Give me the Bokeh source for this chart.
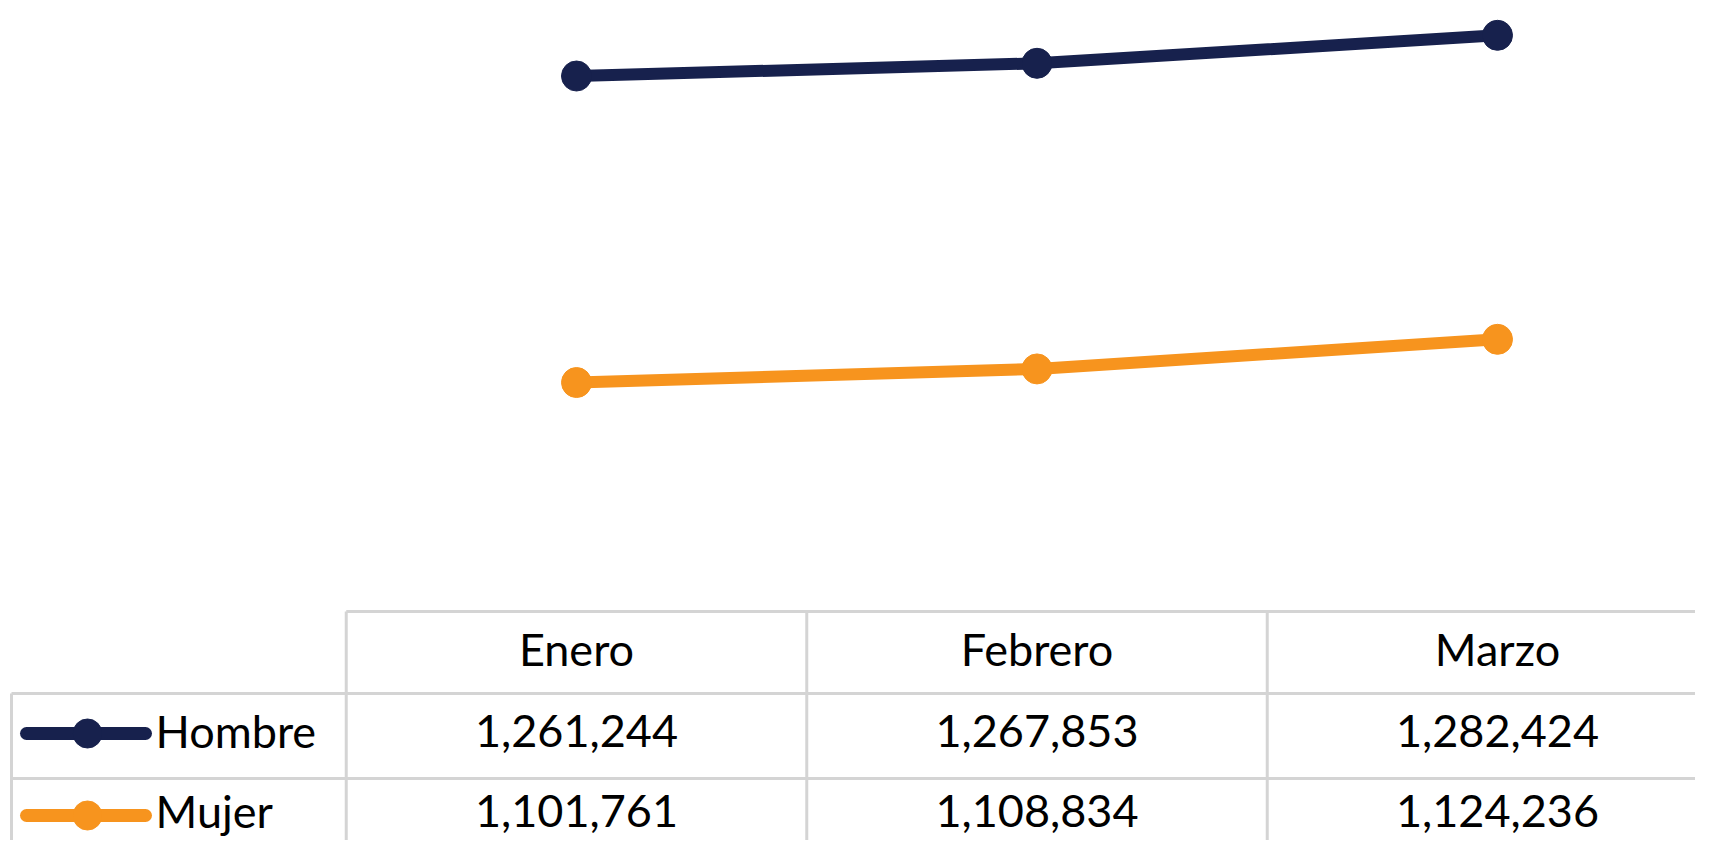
from bokeh.plotting import figure
from bokeh.models import Range1d
from bokeh.core.properties import value
from bokeh.embed import file_html
from bokeh.resources import INLINE

# ---- data ----
months = ["Enero", "Febrero", "Marzo"]
series_names = ["Hombre", "Mujer"]
hombre = [1261244, 1267853, 1282424]
mujer = [1101761, 1108834, 1124236]
series_values = [hombre, mujer]
colors = ["#17214d", "#f7941e"]

# ---- layout (screenshot pixels) ----
W, H = 1695, 840
PAGE_L, PAGE_T = 0, 0
COL0_PX, COL_W = 576.0, 460.5          # centre of first category, column width
Y_REF_PX, Y_REF_VAL, PX_PER_UNIT = 210.4, 1191059.0, 1.9219 / 1000.0

x_start = (PAGE_L - COL0_PX) / COL_W
x_end = (PAGE_L + W - COL0_PX) / COL_W
y_top = Y_REF_VAL + (Y_REF_PX - PAGE_T) / PX_PER_UNIT
y_bot = Y_REF_VAL - (PAGE_T + H - Y_REF_PX) / PX_PER_UNIT

p = figure(width=W, height=H, output_backend="svg", toolbar_location=None,
           x_range=Range1d(x_start, x_end), y_range=Range1d(y_bot, y_top),
           min_border=0, outline_line_color=None, background_fill_color="white",
           border_fill_color="white")
p.extra_x_ranges = {"px": Range1d(PAGE_L, PAGE_L + W)}
p.extra_y_ranges = {"px": Range1d(PAGE_T + H, PAGE_T)}
p.xaxis.visible = False
p.yaxis.visible = False
p.xgrid.visible = False
p.ygrid.visible = False

FONT = value("Lato")
FS = "45px"
GRID = "#d4d4d4"
LW_GRID = 3

# ---- data table grid ----
TOP, ROW1, ROW2, BOT = 611, 693, 778, 900
LEFT = 11
n = len(months)
col_edges = [i - 0.5 for i in range(n + 1)]
p.segment(x0=[col_edges[0]], y0=[TOP], x1=[x_end + 1], y1=[TOP], y_range_name="px",
          line_color=GRID, line_width=LW_GRID)
for yy in (ROW1, ROW2):
    p.segment(x0=[LEFT], y0=[yy], x1=[W + 50], y1=[yy], x_range_name="px",
              y_range_name="px", line_color=GRID, line_width=LW_GRID)
p.segment(x0=col_edges, y0=[TOP] * len(col_edges), x1=col_edges, y1=[BOT] * len(col_edges),
          y_range_name="px", line_color=GRID, line_width=LW_GRID)
p.segment(x0=[LEFT], y0=[ROW1], x1=[LEFT], y1=[BOT], x_range_name="px", y_range_name="px",
          line_color=GRID, line_width=LW_GRID)

# header
idx = list(range(n))
p.text(x=idx, y=[648] * n, text=months, y_range_name="px", text_font=FONT,
       text_font_size=FS, text_align="center", text_baseline="middle", text_color="black")

row_text = [730, 810]
row_keys = [733, 815]
for name, vals, col, yt, yk in zip(series_names, series_values, colors, row_text, row_keys):
    p.line(idx, vals, line_color=col, line_width=12, line_join="round", line_cap="round")
    p.scatter(idx, vals, size=30, fill_color=col, line_color=col)
    p.text(x=idx, y=[yt] * n, text=[f"{v:,}" for v in vals], y_range_name="px",
           text_font=FONT, text_font_size=FS, text_align="center", text_baseline="middle",
           text_color="black")
    p.line([26, 145], [yk, yk], x_range_name="px", y_range_name="px", line_color=col,
           line_width=13, line_cap="round")
    p.scatter([87], [yk], x_range_name="px", y_range_name="px", size=29,
              fill_color=col, line_color=col)
    p.text(x=[155], y=[yt], text=[name], x_range_name="px", y_range_name="px",
           text_font=FONT, text_font_size=FS, text_align="left", text_baseline="middle",
           text_color="black")

open("out.html", "w").write(file_html(p, INLINE))
